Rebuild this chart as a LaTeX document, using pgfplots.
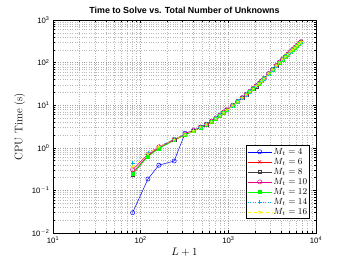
\documentclass[border=0pt]{standalone}
\usepackage{fontspec}
\newfontfamily\helv{Liberation Sans}
\usepackage{pgfplots}
\pgfplotsset{compat=1.18}
\usepackage{pgfplotstable}

\pgfplotstableread{
x m4 m6 m8 m10 m12 m14 m16
81 0.030 0.26 0.24 0.31 0.25 0.43 0.36
121 0.185 0.66 0.64 0.70 0.62 0.76 0.72
161 0.39 1.02 0.98 1.05 0.96 1.10 1.06
241 0.49 1.50 1.55 1.58 1.50 1.62 1.56
321 2.2 2.02 2.05 2.10 2.00 2.12 2.06
401 2.55 2.48 2.50 2.56 2.45 2.58 2.52
481 3.05 2.97 3.00 3.08 2.95 3.06 3.02
561 3.55 3.47 3.52 3.58 3.45 3.56 3.50
641 4.15 4.08 4.10 4.20 4.05 4.14 4.12
721 4.90 4.82 4.86 4.95 4.80 4.90 4.88
801 5.80 5.70 5.74 5.86 5.68 5.78 5.76
881 6.72 6.64 6.68 6.80 6.60 6.74 6.70
961 7.72 7.62 7.67 7.80 7.58 7.74 7.70
1121 9.85 9.74 9.80 9.95 9.70 9.88 9.82
1281 12.2 12.0 12.1 12.3 11.9 12.2 12.1
1441 14.9 14.7 14.8 15.0 14.6 14.9 14.8
1601 17.8 17.6 17.7 17.9 17.5 17.8 17.7
1761 21.0 20.8 20.9 21.2 20.7 21.0 20.9
1921 24.5 24.3 24.4 24.7 24.2 24.5 24.4
2081 28.2 27.8 28.0 28.4 27.8 28.1 28.0
2241 32.1 31.7 31.9 32.3 31.6 32.0 31.9
2401 36.9 36.5 36.7 37.2 36.4 36.8 36.7
2561 42.4 42.0 42.2 42.8 41.8 42.3 42.2
2881 54.7 54.1 54.4 55.1 54.0 54.5 54.4
3201 68.8 68.0 68.4 69.2 67.8 68.6 68.4
3521 84.5 83.6 84.1 85.0 83.4 84.3 84.1
3841 102 100 101 103 100 101 101
4161 120 118 119 121 118 119 119
4481 138 136 137 139 136 137 137
4801 158 156 157 159 156 157 157
5121 179 177 178 181 177 178 178
5441 202 200 201 204 199 201 201
5761 226 224 225 228 223 225 225
6081 251 249 250 254 248 250 250
6401 278 275 276 280 274 276 276
6721 306 302 304 308 301 304 304
}\datatable

\begin{document}
\begin{tikzpicture}
\path[use as bounding box] (0,0) rectangle (349bp,263bp);
\begin{axis}[
  at={(53bp,30bp)}, anchor=south west,
  scale only axis, width=263bp, height=213bp,
  xmode=log, ymode=log,
  xmin=10, xmax=10000, ymin=0.01, ymax=1000,
  xtick={10,100,1000,10000},
  xticklabels={{\helv 10\textsuperscript{1}},{\helv 10\textsuperscript{2}},{\helv 10\textsuperscript{3}},{\helv 10\textsuperscript{4}}},
  ytick={0.01,0.1,1,10,100,1000},
  yticklabels={{\helv 10\textsuperscript{$-$2}},{\helv 10\textsuperscript{$-$1}},{\helv 10\textsuperscript{0}},{\helv 10\textsuperscript{1}},{\helv 10\textsuperscript{2}},{\helv 10\textsuperscript{3}}},
  minor xtick={20,30,40,50,60,70,80,90,200,300,400,500,600,700,800,900,2000,3000,4000,5000,6000,7000,8000,9000},
  minor ytick={0.02,0.03,0.04,0.05,0.06,0.07,0.08,0.09,0.2,0.3,0.4,0.5,0.6,0.7,0.8,0.9,2,3,4,5,6,7,8,9,20,30,40,50,60,70,80,90,200,300,400,500,600,700,800,900},
  grid=both,
  major grid style={dotted, gray!75},
  minor grid style={dotted, gray!55},
  tick align=inside,
  major tick length=3bp, minor tick length=1.8bp,
  tick style={black, line width=0.4pt},
  axis line style={black, line width=0.6pt},
  ticklabel style={font=\fontsize{7.8}{9}\selectfont},
  title={\helv\bfseries Time to Solve vs. Total Number of Unknowns},
  title style={font=\fontsize{8.9}{10}\selectfont, yshift=-3.5bp},
  xlabel={$L+1$},
  ylabel={CPU Time (s)},
  label style={font=\fontsize{11}{13}\selectfont},
  xlabel style={yshift=2.5bp},
  ylabel style={yshift=0bp},
  legend style={at={(0.977,0.066)}, anchor=south east, draw=black, line width=0.5pt,
    font=\fontsize{8.6}{10}\selectfont, inner sep=1bp, row sep=-1.6bp,
    nodes={inner xsep=1.5bp}},
  legend cell align=left,
  legend image code/.code={\draw[mark repeat=2, mark phase=2] plot coordinates {(0bp,0bp) (12bp,0bp) (24bp,0bp)};},
  every axis plot/.append style={line width=0.5pt, mark size=2.1bp},
]
\addplot[blue, mark=o] table[x=x, y=m4] {\datatable};
\addlegendentry{$M_t=4$}
\addplot[red, mark=x] table[x=x, y=m6] {\datatable};
\addlegendentry{$M_t=6$}
\addplot[black!75, mark=square, mark size=1.6bp] table[x=x, y=m8] {\datatable};
\addlegendentry{$M_t=8$}
\addplot[magenta, mark=o] table[x=x, y=m10] {\datatable};
\addlegendentry{$M_t=10$}
\addplot[green, mark=square*, mark size=1.4bp, mark options={fill=green}] table[x=x, y=m12] {\datatable};
\addlegendentry{$M_t=12$}
\addplot[cyan, dotted, mark=+, mark options={solid}] table[x=x, y=m14] {\datatable};
\addlegendentry{$M_t=14$}
\addplot[yellow, dashed, mark=star, mark options={solid}] table[x=x, y=m16] {\datatable};
\addlegendentry{$M_t=16$}
\end{axis}
\end{tikzpicture}
\end{document}
